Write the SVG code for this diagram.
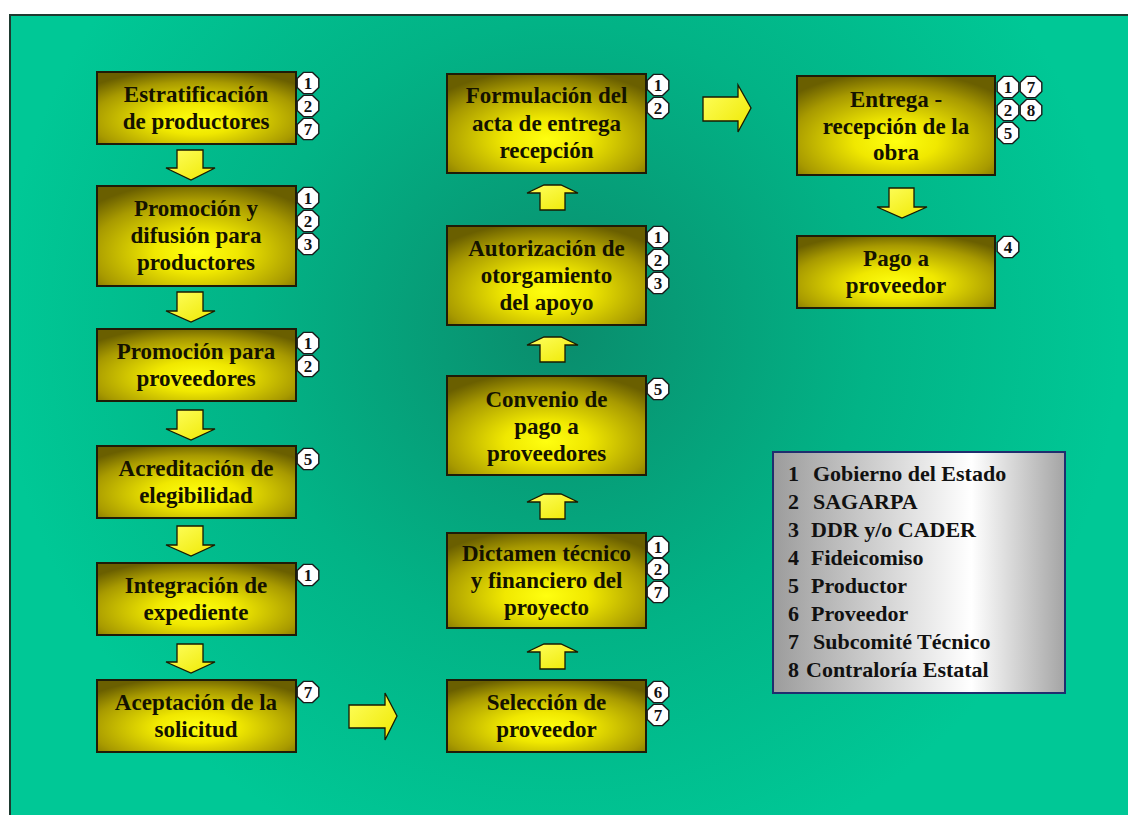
<svg xmlns="http://www.w3.org/2000/svg" xmlns:xlink="http://www.w3.org/1999/xlink" width="1128" height="815" viewBox="0 0 1128 815">
<defs>
<radialGradient id="bg" gradientUnits="userSpaceOnUse" cx="560" cy="330" r="560">
<stop offset="0" stop-color="#0A8C6C"/>
<stop offset="0.55" stop-color="#02B386"/>
<stop offset="1" stop-color="#00C896"/>
</radialGradient>
<radialGradient id="boxg" cx="0.5" cy="0.66" r="0.7">
<stop offset="0" stop-color="#FFFF10"/>
<stop offset="0.3" stop-color="#F0E800"/>
<stop offset="0.75" stop-color="#A89A00"/>
<stop offset="1" stop-color="#6A5F00"/>
</radialGradient>
<linearGradient id="arrg" x1="0" y1="0" x2="1" y2="1">
<stop offset="0" stop-color="#FFFF60"/>
<stop offset="1" stop-color="#EEE800"/>
</linearGradient>
<linearGradient id="legg" x1="0" y1="0" x2="1" y2="0">
<stop offset="0" stop-color="#9C9C9C"/>
<stop offset="0.68" stop-color="#FFFFFF"/>
<stop offset="1" stop-color="#A4A4A4"/>
</linearGradient>
<polygon id="oct" points="-4.5,-10.6 4.5,-10.6 10.8,-4.4 10.8,4.4 4.5,10.6 -4.5,10.6 -10.8,4.4 -10.8,-4.4"/>
</defs>
<style>
.box{fill:url(#boxg);stroke:#1E1C08;stroke-width:2}
.t{font-family:"Liberation Serif","Times New Roman",serif;font-weight:bold;font-size:23px;fill:#141200;text-anchor:middle}
.bd use{fill:#FFFFFF;stroke:#1A1A1A;stroke-width:1.4}
.bd text{font-family:"Liberation Serif","Times New Roman",serif;font-weight:bold;font-size:17px;fill:#111;text-anchor:middle}
.arr{fill:url(#arrg);stroke:#1A1A00;stroke-width:1.3;stroke-linejoin:miter}
.lg{font-family:"Liberation Serif","Times New Roman",serif;font-weight:bold;font-size:22px;fill:#111}
</style>
<rect x="0" y="0" width="1128" height="815" fill="#FFFFFF"/>
<rect x="10" y="15" width="1125" height="810" fill="url(#bg)" stroke="#1E3A30" stroke-width="2"/>

<g id="connectors">
<polygon class="arr" points="177,150 203,150 203,168 215,168 191,180 166,168 177,168"/>
<polygon class="arr" points="177,292 203,292 203,311 215,311 191,322 166,311 177,311"/>
<polygon class="arr" points="177,410 203,410 203,429 215,429 191,440 166,429 177,429"/>
<polygon class="arr" points="177,526 203,526 203,545 215,545 191,556 166,545 177,545"/>
<polygon class="arr" points="177,644 203,644 203,662 215,662 191,673 166,662 177,662"/>
<polygon class="arr" points="349,705 385,705 385,693 397,716 385,740 385,728 349,728"/>
<polygon class="arr" points="540,210 565,210 565,193 578,193 561,185 544,185 527,193 540,193"/>
<polygon class="arr" points="540,362 565,362 565,345 578,345 561,337 544,337 527,345 540,345"/>
<polygon class="arr" points="540,519 565,519 565,502 578,502 561,494 544,494 527,502 540,502"/>
<polygon class="arr" points="540,669 565,669 565,652 578,652 561,644 544,644 527,652 540,652"/>
<polygon class="arr" points="703,97 738,97 738,85 751,108 738,132 738,121 703,121"/>
<polygon class="arr" points="889,188 914,188 914,207 927,207 902,218 877,207 889,207"/>
</g>

<g id="n-estratificacion">
<rect class="box" x="97" y="72" width="199" height="72"/>
<text class="t" x="196" y="102">Estratificación</text>
<text class="t" x="196" y="129">de productores</text>
<g class="bd"><use href="#oct" x="308" y="83"/><text x="308" y="89">1</text><use href="#oct" x="308" y="106"/><text x="308" y="112">2</text><use href="#oct" x="308" y="129"/><text x="308" y="135">7</text></g>
</g>
<g id="n-promocion-difusion">
<rect class="box" x="97" y="186" width="199" height="100"/>
<text class="t" x="196" y="216">Promoción y</text>
<text class="t" x="196" y="243">difusión para</text>
<text class="t" x="196" y="270">productores</text>
<g class="bd"><use href="#oct" x="308" y="198"/><text x="308" y="204">1</text><use href="#oct" x="308" y="221"/><text x="308" y="227">2</text><use href="#oct" x="308" y="244"/><text x="308" y="250">3</text></g>
</g>
<g id="n-promocion-proveedores">
<rect class="box" x="97" y="329" width="199" height="72"/>
<text class="t" x="196" y="359">Promoción para</text>
<text class="t" x="196" y="386">proveedores</text>
<g class="bd"><use href="#oct" x="308" y="343"/><text x="308" y="349">1</text><use href="#oct" x="308" y="366"/><text x="308" y="372">2</text></g>
</g>
<g id="n-acreditacion">
<rect class="box" x="97" y="446" width="199" height="72"/>
<text class="t" x="196" y="476">Acreditación de</text>
<text class="t" x="196" y="503">elegibilidad</text>
<g class="bd"><use href="#oct" x="308" y="459"/><text x="308" y="465">5</text></g>
</g>
<g id="n-integracion">
<rect class="box" x="97" y="563" width="199" height="72"/>
<text class="t" x="196" y="593">Integración de</text>
<text class="t" x="196" y="620">expediente</text>
<g class="bd"><use href="#oct" x="308" y="575"/><text x="308" y="581">1</text></g>
</g>
<g id="n-aceptacion">
<rect class="box" x="97" y="680" width="199" height="72"/>
<text class="t" x="196" y="710">Aceptación de la</text>
<text class="t" x="196" y="737">solicitud</text>
<g class="bd"><use href="#oct" x="308" y="692"/><text x="308" y="698">7</text></g>
</g>

<g id="n-formulacion">
<rect class="box" x="447" y="74" width="199" height="99"/>
<text class="t" x="546.5" y="103">Formulación del</text>
<text class="t" x="546.5" y="131">acta de entrega</text>
<text class="t" x="546.5" y="158">recepción</text>
<g class="bd"><use href="#oct" x="658" y="85"/><text x="658" y="91">1</text><use href="#oct" x="658" y="108"/><text x="658" y="114">2</text></g>
</g>
<g id="n-autorizacion">
<rect class="box" x="447" y="226" width="199" height="99"/>
<text class="t" x="546.5" y="256">Autorización de</text>
<text class="t" x="546.5" y="283">otorgamiento</text>
<text class="t" x="546.5" y="310">del apoyo</text>
<g class="bd"><use href="#oct" x="658" y="237"/><text x="658" y="243">1</text><use href="#oct" x="658" y="260"/><text x="658" y="266">2</text><use href="#oct" x="658" y="283"/><text x="658" y="289">3</text></g>
</g>
<g id="n-convenio">
<rect class="box" x="447" y="376" width="199" height="99"/>
<text class="t" x="546.5" y="407">Convenio de</text>
<text class="t" x="546.5" y="434">pago a</text>
<text class="t" x="546.5" y="461">proveedores</text>
<g class="bd"><use href="#oct" x="658" y="389"/><text x="658" y="395">5</text></g>
</g>
<g id="n-dictamen">
<rect class="box" x="447" y="533" width="199" height="95"/>
<text class="t" x="546.5" y="561">Dictamen técnico</text>
<text class="t" x="546.5" y="588">y financiero del</text>
<text class="t" x="546.5" y="615">proyecto</text>
<g class="bd"><use href="#oct" x="658" y="547"/><text x="658" y="553">1</text><use href="#oct" x="658" y="569"/><text x="658" y="575">2</text><use href="#oct" x="658" y="592"/><text x="658" y="598">7</text></g>
</g>
<g id="n-seleccion">
<rect class="box" x="447" y="680" width="199" height="72"/>
<text class="t" x="546.5" y="710">Selección de</text>
<text class="t" x="546.5" y="737">proveedor</text>
<g class="bd"><use href="#oct" x="658" y="692"/><text x="658" y="698">6</text><use href="#oct" x="658" y="715"/><text x="658" y="721">7</text></g>
</g>

<g id="n-entrega">
<rect class="box" x="797" y="76" width="198" height="99"/>
<text class="t" x="896" y="107">Entrega -</text>
<text class="t" x="896" y="134">recepción de la</text>
<text class="t" x="896" y="160">obra</text>
<g class="bd"><use href="#oct" x="1008" y="87"/><text x="1008" y="93">1</text><use href="#oct" x="1031" y="87"/><text x="1031" y="93">7</text><use href="#oct" x="1008" y="110"/><text x="1008" y="116">2</text><use href="#oct" x="1031" y="110"/><text x="1031" y="116">8</text><use href="#oct" x="1008" y="133"/><text x="1008" y="139">5</text></g>
</g>
<g id="n-pago">
<rect class="box" x="797" y="236" width="198" height="72"/>
<text class="t" x="896" y="266">Pago a</text>
<text class="t" x="896" y="293">proveedor</text>
<g class="bd"><use href="#oct" x="1008" y="247"/><text x="1008" y="253">4</text></g>
</g>

<g id="legend">
<rect x="773" y="452" width="292" height="241" fill="url(#legg)" stroke="#1F2E6E" stroke-width="2"/>
<text class="lg" y="481"><tspan x="788">1</tspan><tspan x="813">Gobierno del Estado</tspan></text>
<text class="lg" y="509"><tspan x="788">2</tspan><tspan x="813">SAGARPA</tspan></text>
<text class="lg" y="537"><tspan x="788">3</tspan><tspan x="811">DDR y/o CADER</tspan></text>
<text class="lg" y="565"><tspan x="788">4</tspan><tspan x="811">Fideicomiso</tspan></text>
<text class="lg" y="593"><tspan x="788">5</tspan><tspan x="811">Productor</tspan></text>
<text class="lg" y="621"><tspan x="788">6</tspan><tspan x="811">Proveedor</tspan></text>
<text class="lg" y="649"><tspan x="788">7</tspan><tspan x="813">Subcomité Técnico</tspan></text>
<text class="lg" y="677"><tspan x="788">8</tspan><tspan x="806">Contraloría Estatal</tspan></text>
</g>
</svg>
